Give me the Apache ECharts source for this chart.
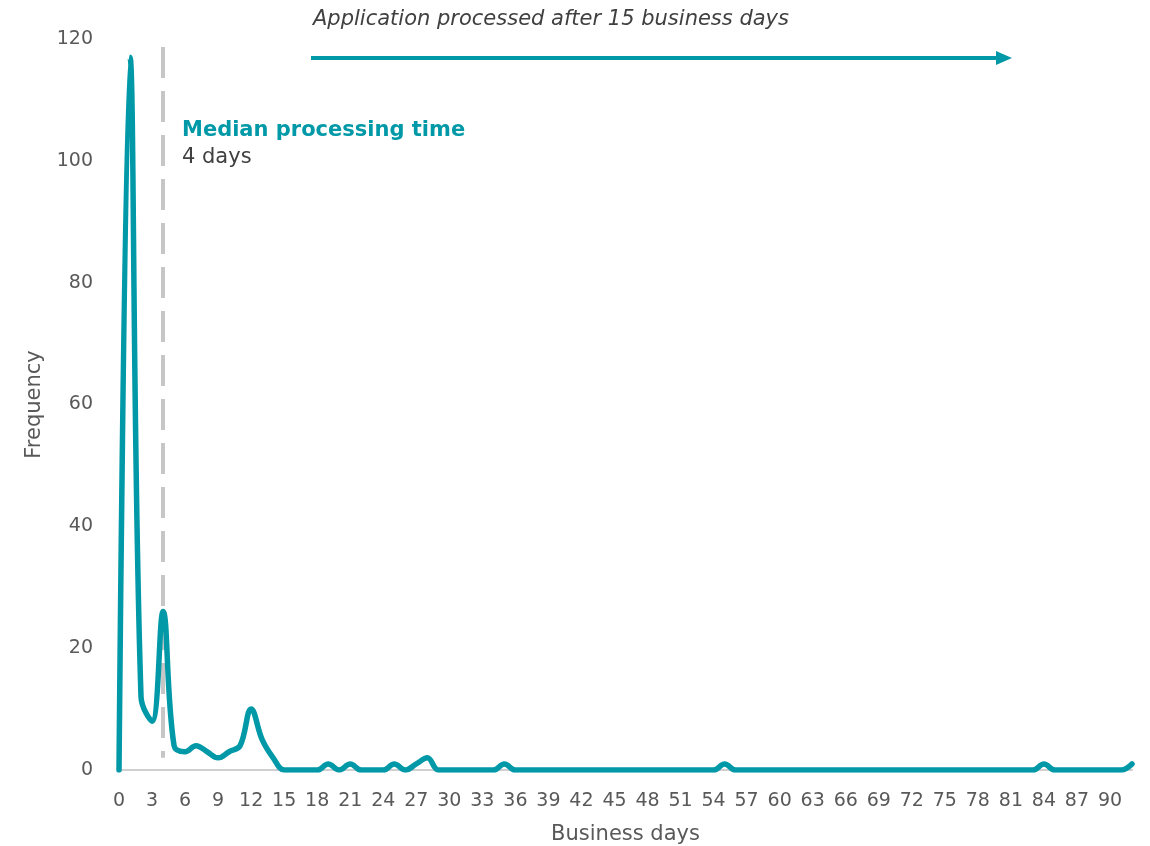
<!DOCTYPE html>
<html>
<head>
<meta charset="utf-8">
<script src="https://cdn.jsdelivr.net/npm/echarts@6/dist/echarts.min.js"></script>
<style>
	html, body { margin: 0; padding: 0; background: #fff; }
	#chart { width: 1150px; height: 846px; }
</style>
</head>
<body>
<div id="chart"></div>
<script>
// business days 0..92
const days = []
for (let d = 0; d <= 92; d++) days.push(String(d))

// frequency per business day
const frequency = [
	0, 117, 12, 8, 26, 4, 3, 4, 3, 2,
	3, 4, 10, 5, 2, 0, 0, 0, 0, 1,
	0, 1, 0, 0, 0, 1, 0, 1, 2, 0,
	0, 0, 0, 0, 0, 1, 0, 0, 0, 0,
	0, 0, 0, 0, 0, 0, 0, 0, 0, 0,
	0, 0, 0, 0, 0, 1, 0, 0, 0, 0,
	0, 0, 0, 0, 0, 0, 0, 0, 0, 0,
	0, 0, 0, 0, 0, 0, 0, 0, 0, 0,
	0, 0, 0, 0, 1, 0, 0, 0, 0, 0,
	0, 0, 1
]

const medianDay = 4
const yTicks = [0, 20, 40, 60, 80, 100, 120]

const teal = '#0199a7'
const grey = '#595959'
const font = 'DejaVu Sans'

const chart = echarts.init(document.getElementById('chart'))
chart.setOption({
	animation: false,
	textStyle: { fontFamily: font },
	grid: {
		left: 119,
		right: 18,
		top: 39,
		bottom: 76,
		containLabel: false,
		outerBoundsMode: 'none'
	},
	xAxis: {
		type: 'category',
		data: days,
		boundaryGap: false,
		name: 'Business days',
		nameLocation: 'middle',
		nameGap: 54,
		nameTextStyle: { fontSize: 21, color: grey, fontFamily: font },
		axisLine: { lineStyle: { color: '#d0d0d0', width: 2 } },
		axisTick: { show: false },
		axisLabel: { interval: 2, fontSize: 19, color: grey, margin: 22, fontFamily: font }
	},
	yAxis: {
		type: 'value',
		min: yTicks[0],
		max: yTicks[yTicks.length - 1],
		interval: 20,
		name: 'Frequency',
		nameLocation: 'middle',
		nameGap: 74,
		nameTextStyle: { fontSize: 21, color: grey, fontFamily: font },
		axisLine: { show: false },
		axisTick: { show: false },
		splitLine: { show: false },
		axisLabel: { fontSize: 19, color: grey, margin: 26, fontFamily: font }
	},
	series: [
		{
			type: 'line',
			data: frequency,
			smooth: 0.4,
			symbol: 'none',
			lineStyle: { color: teal, width: 5.5, cap: 'round', join: 'round' },
			z: 3,
			markLine: {
				silent: true,
				symbol: 'none',
				label: { show: false },
				lineStyle: { color: '#c6c6c6', width: 4, type: [31, 13] },
				data: [[
					{ coord: [medianDay, 118.7] },
					{ coord: [medianDay, 2] }
				]],
				z: 1
			}
		}
	],
	graphic: [
		{
			type: 'text',
			left: 182,
			top: 120,
			style: { text: 'Median processing time', fontSize: 21, fontWeight: 'bold', fill: teal, fontFamily: font }
		},
		{
			type: 'text',
			left: 182,
			top: 147,
			style: { text: '4 days', fontSize: 21, fill: '#404040', fontFamily: font }
		},
		{
			type: 'text',
			left: 313,
			top: 9,
			style: { text: 'Application processed after 15 business days', fontSize: 21, fontStyle: 'italic', fill: '#404040', fontFamily: font }
		},
		{
			type: 'line',
			shape: { x1: 311, y1: 58, x2: 998, y2: 58 },
			style: { stroke: teal, lineWidth: 4 }
		},
		{
			type: 'polygon',
			shape: { points: [[996, 51], [1012, 58], [996, 65]] },
			style: { fill: teal }
		}
	]
})
</script>
</body>
</html>
